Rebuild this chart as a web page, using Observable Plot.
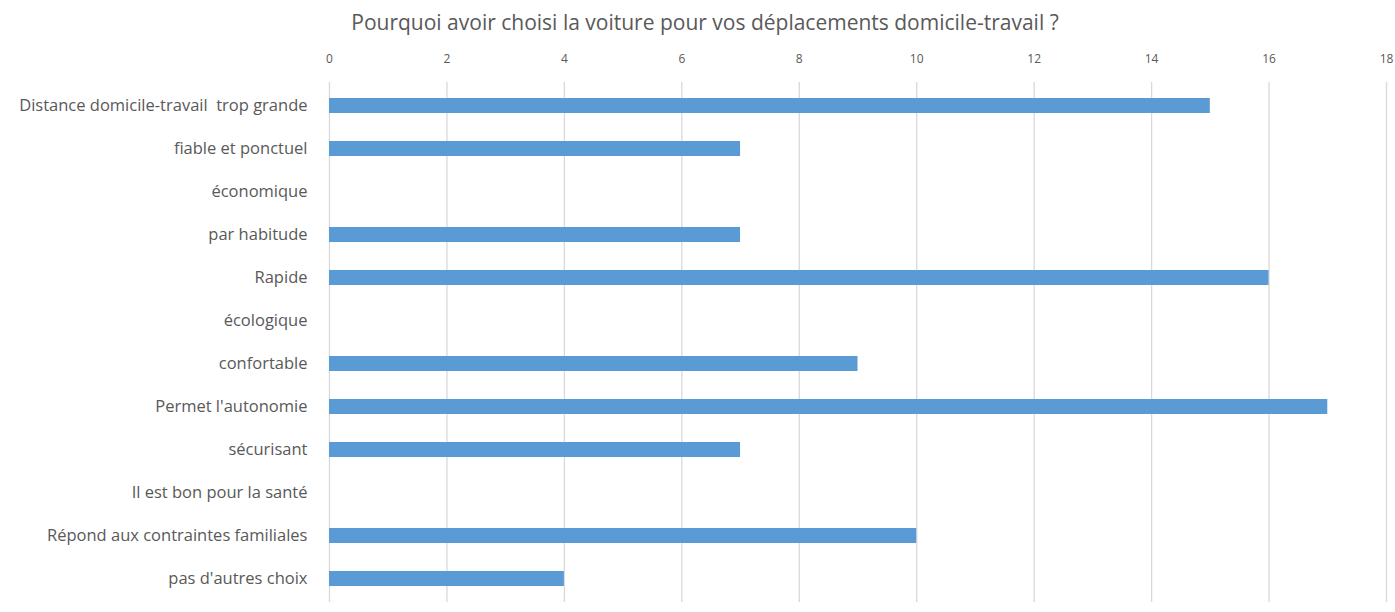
<!DOCTYPE html>
<html>
<head>
<meta charset="utf-8">
<script src="https://cdn.jsdelivr.net/npm/d3@7"></script>
<script src="https://cdn.jsdelivr.net/npm/@observablehq/plot@0.6"></script>
<style>
  html, body { margin: 0; padding: 0; background: #fff; }
  body { font-family: "Open Sans", sans-serif; }
  #title { height: 46px; line-height: 44px; text-align: center; font-size: 21px; color: #595959; width: 1395px; padding-left: 15px; box-sizing: border-box; }
</style>
</head>
<body>
<div id="title">Pourquoi avoir choisi la voiture pour vos déplacements domicile-travail ?</div>
<div id="chart"></div>
<script>
const categories = [
  "Distance domicile-travail  trop grande",
  "fiable et ponctuel",
  "économique",
  "par habitude",
  "Rapide",
  "écologique",
  "confortable",
  "Permet l'autonomie",
  "sécurisant",
  "Il est bon pour la santé",
  "Répond aux contraintes familiales",
  "pas d'autres choix"
];
const values = [15, 7, 0, 7, 16, 0, 9, 17, 7, 0, 10, 4];
const xTicks = [0, 2, 4, 6, 8, 10, 12, 14, 16, 18];

const data = categories.map((c, i) => ({category: c, value: values[i]}));

const chart = Plot.plot({
  width: 1395,
  height: 566,
  marginLeft: 329,
  marginRight: 9,
  marginTop: 36,
  marginBottom: 10,
  style: { fontFamily: '"Open Sans", sans-serif', background: "#fff" },
  x: { domain: [0, 18], ticks: xTicks, axis: null },
  y: { domain: categories, paddingInner: 0.64, paddingOuter: 0.32, axis: null },
  marks: [
    Plot.gridX(xTicks, { stroke: "#d9d9d9", strokeOpacity: 1, strokeWidth: 1.3 }),
    Plot.axisX({ anchor: "top", ticks: xTicks, tickSize: 0, tickPadding: 20, fontSize: 12, color: "#595959", label: null }),
    Plot.axisY({ anchor: "left", tickSize: 0, tickPadding: 22, fontSize: 16.5, color: "#595959", label: null }),
    Plot.barX(data, { x: "value", y: "category", fill: "#5b9bd5" })
  ]
});
document.getElementById("chart").appendChild(chart);
</script>
</body>
</html>
